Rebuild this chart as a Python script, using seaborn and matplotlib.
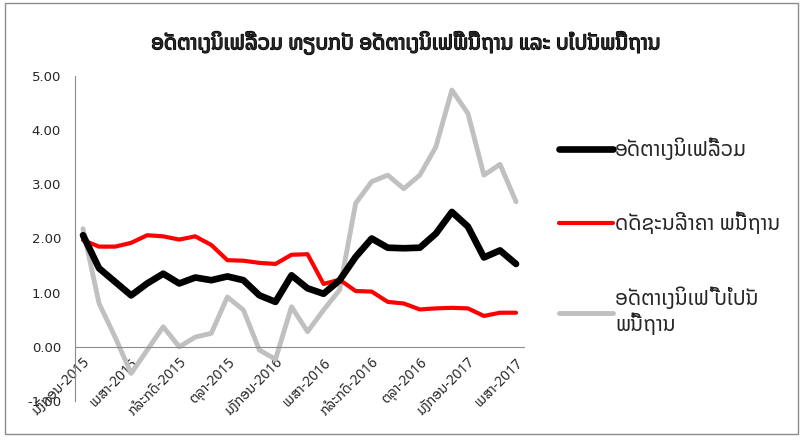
import matplotlib
matplotlib.use("Agg")
import matplotlib.pyplot as plt
import matplotlib.patheffects as pe
import seaborn as sns
import pandas as pd
from matplotlib import font_manager
from matplotlib.ft2font import FT2Font
from matplotlib.patches import Rectangle

# ---------------- data ----------------
months = ["ມັງກອນ", "ກຸມພາ", "ມີນາ", "ເມສາ", "ພຶດສະພາ", "ມິຖຸນາ",
          "ກໍລະກົດ", "ສິງຫາ", "ກັນຍາ", "ຕຸລາ", "ພະຈິກ", "ທັນວາ"]
periods = [f"{months[m]}-{y}" for y in (2015, 2016, 2017) for m in range(12)][:28]

headline = [2.06, 1.45, 1.20, 0.95, 1.17, 1.35, 1.17, 1.28, 1.23, 1.30,
            1.23, 0.95, 0.83, 1.32, 1.08, 0.98, 1.23, 1.66, 2.00, 1.83,
            1.82, 1.83, 2.09, 2.49, 2.22, 1.65, 1.78, 1.53]
core = [1.97, 1.85, 1.85, 1.92, 2.06, 2.04, 1.98, 2.04, 1.88, 1.60,
        1.59, 1.55, 1.53, 1.70, 1.71, 1.16, 1.24, 1.03, 1.02, 0.83,
        0.80, 0.69, 0.71, 0.72, 0.71, 0.57, 0.63, 0.63]
noncore = [2.18, 0.80, 0.18, -0.49, -0.06, 0.37, 0.00, 0.18, 0.25, 0.92,
           0.68, -0.06, -0.23, 0.74, 0.28, 0.68, 1.05, 2.65, 3.05, 3.17,
           2.92, 3.17, 3.69, 4.74, 4.31, 3.17, 3.37, 2.68]

series_names = ["ອັດຕາເງິນເຟີ້ລວມ", "ດັດຊະນີລາຄາ ພື້ນຖານ",
                "ອັດຕາເງິນເຟີ້ ບໍ່ເປັນ\nພື້ນຖານ"]
title = "ອັດຕາເງິນເຟີ້ລວມ ທຽບກັບ ອັດຕາເງິນເຟີ້ພື້ນຖານ ແລະ ບໍ່ເປັນພື້ນຖານ"
y_ticks = [-1, 0, 1, 2, 3, 4, 5]

# ---------------- fonts ----------------
def lao_font():
    found = []
    for f in font_manager.fontManager.ttflist:
        try:
            cm = FT2Font(f.fname).get_charmap()
        except Exception:
            continue
        if 0x0EAD in cm and 0x0EC0 in cm and 0x0EB4 in cm:
            found.append(f.name)
    for pref in ["Noto Sans Lao", "DejaVu Sans", "Noto Sans", "Open Sans"]:
        if pref in found:
            return pref
    return found[0] if found else "DejaVu Sans"

sns.set_style("white")
lf = lao_font()
plt.rcParams["font.family"] = [lf, "DejaVu Sans"]

# ---------------- figure ----------------
fig = plt.figure(figsize=(8.04, 4.46), dpi=100)
fig.patches.append(Rectangle((0.006, 0.028), 0.986, 0.965, transform=fig.transFigure,
                             fill=False, edgecolor="#8c8c8c", linewidth=1.0))
ax = fig.add_axes([0.0933, 0.1009, 0.5585, 0.7287])

df = pd.DataFrame({"idx": range(len(periods)), "headline": headline,
                   "core": core, "noncore": noncore})

sns.lineplot(data=df, x="idx", y="noncore", ax=ax, color="#c0c0c0", linewidth=3.5,
             label=series_names[2], solid_capstyle="round", solid_joinstyle="round", zorder=2)
sns.lineplot(data=df, x="idx", y="core", ax=ax, color="#ff0000", linewidth=3.0,
             label=series_names[1], solid_capstyle="round", solid_joinstyle="round", zorder=3)
sns.lineplot(data=df, x="idx", y="headline", ax=ax, color="#000000", linewidth=4.8,
             label=series_names[0], solid_capstyle="round", solid_joinstyle="round", zorder=4)

ax.set_xlim(-0.5, len(periods) - 0.5)
ax.set_ylim(-1, 5)
ax.set_yticks(y_ticks)
ax.set_yticklabels([f"{v:.2f}" for v in y_ticks], fontsize=9.5, family="DejaVu Sans")
ax.set_xlabel("")
ax.set_ylabel("")

for s in ["top", "right"]:
    ax.spines[s].set_visible(False)
ax.spines["left"].set_color("#8c8c8c")
ax.spines["bottom"].set_color("#8c8c8c")
ax.spines["bottom"].set_position(("data", 0))

lab_idx = list(range(0, len(periods), 3))
ax.set_xticks(lab_idx)
ax.set_xticklabels([periods[i] for i in lab_idx], rotation=45, ha="right",
                   rotation_mode="anchor", fontsize=10)
ax.set_xticks([i - 0.5 for i in range(len(periods) + 1)], minor=True)
ax.tick_params(axis="x", which="major", length=0, pad=6)
ax.tick_params(axis="x", which="minor", length=4, color="#8c8c8c", direction="out")
ax.tick_params(axis="y", length=4, color="#8c8c8c", direction="out", pad=6)
ax.grid(False)

fig.text(0.505, 0.904, title, ha="center", va="center", fontsize=15,
         path_effects=[pe.withStroke(linewidth=0.9, foreground="black")])

h, l = ax.get_legend_handles_labels()
order = [l.index(n) for n in series_names]
leg = ax.legend([h[i] for i in order], [l[i] for i in order],
                loc="upper left", bbox_to_anchor=(0.695, 0.69), bbox_transform=fig.transFigure,
                frameon=False, fontsize=15, handlelength=2.6, handletextpad=0.1,
                labelspacing=2.5, borderaxespad=0, borderpad=0)
for line in leg.get_lines():
    line.set_solid_capstyle("round")

fig.savefig("out.png", dpi=100, facecolor="white")
